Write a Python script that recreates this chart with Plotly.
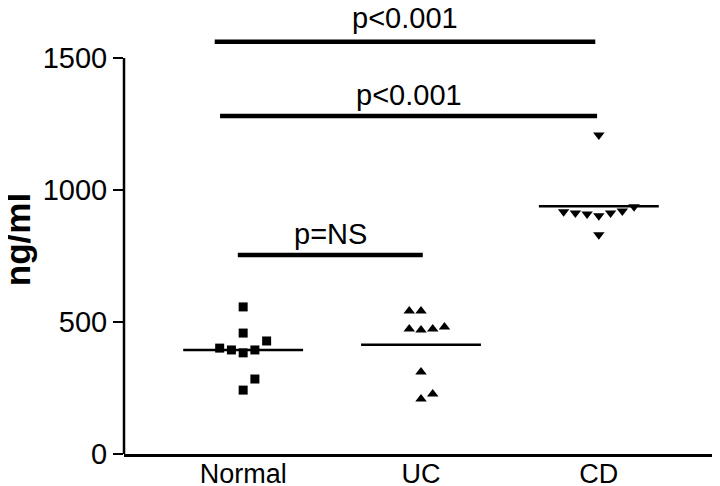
import numpy as np
import plotly.graph_objects as go

categories = ["Normal", "UC", "CD"]
normal_vals = [557, 458, 428, 401, 394, 383, 394, 284, 242]
uc_vals = [542, 542, 473, 470, 473, 481, 311, 208, 227]
cd_vals = [1208, 917, 913, 909, 902, 913, 920, 936, 830]

# column index of each point within its scatter column (dot-plot jitter)
normal_cols = [0, 0, 2, -2, -1, 0, 1, 1, 0]
uc_cols = [-1, 0, -1, 0, 1, 2, 0, 0, 1]
cd_cols = [0, -3, -2, -1, 0, 1, 2, 3, 0]

y_ticks = [0, 500, 1000, 1500]
y_title = "ng/ml"

# significance comparisons: (from group, to group, level, label)
sig_from = [-0.16, -0.13, -0.03]
sig_to = [1.98, 1.99, 1.01]
sig_level = [1561, 1280, 754]
sig_label_y = [1650, 1360, 832]
sig_labels = ["p<0.001", "p<0.001", "p=NS"]

FONT = "Arial, Liberation Sans, Helvetica, sans-serif"
COL_STEP = 0.066
MEAN_HALF = 0.337

groups = [
    (normal_vals, normal_cols, "square", 9),
    (uc_vals, uc_cols, "triangle-up", 10),
    (cd_vals, cd_cols, "triangle-down", 10),
]

fig = go.Figure()
for i, (vals, cols, sym, sz) in enumerate(groups):
    xs = [i + c * COL_STEP for c in cols]
    fig.add_trace(go.Scatter(
        x=xs, y=vals, mode="markers",
        marker=dict(symbol=sym, size=sz, color="black", line=dict(width=0)),
        showlegend=False, cliponaxis=False,
    ))
    m = float(np.mean(vals))
    fig.add_trace(go.Scatter(
        x=[i - MEAN_HALF, i + MEAN_HALF], y=[m, m], mode="lines",
        line=dict(color="black", width=2.5), showlegend=False,
    ))

shapes = []
# y-axis line from 0 to top tick
shapes.append(dict(type="line", xref="paper", yref="y", x0=0, x1=0,
                   y0=y_ticks[0], y1=y_ticks[-1], line=dict(color="black", width=2.5)))
annotations = []
for x0, x1, yl, ty, lab in zip(sig_from, sig_to, sig_level, sig_label_y, sig_labels):
    shapes.append(dict(type="line", xref="x", yref="y", x0=x0, x1=x1, y0=yl, y1=yl,
                       line=dict(color="black", width=4.5)))
    annotations.append(dict(x=(x0 + x1) / 2, y=ty, xref="x", yref="y", text=lab,
                            showarrow=False, font=dict(family=FONT, size=29, color="black"),
                            xanchor="center", yanchor="middle"))

annotations.append(dict(x=-0.178, y=0.48, xref="paper", yref="paper", text="<b>" + y_title + "</b>",
                        textangle=-90, showarrow=False,
                        font=dict(family=FONT, size=35, color="black"),
                        xanchor="center", yanchor="middle"))

fig.update_layout(
    width=712, height=478,
    margin=dict(l=116, r=2, t=0, b=32),
    paper_bgcolor="white", plot_bgcolor="white",
    shapes=shapes, annotations=annotations,
    font=dict(family=FONT, color="black"),
)
fig.update_xaxes(
    range=[-0.67, 2.67], tickmode="array", tickvals=[0, 1, 2], ticktext=categories,
    showgrid=False, zeroline=False, showline=True, linecolor="black", linewidth=2.5,
    ticks="", tickfont=dict(family=FONT, size=27, color="black"), automargin=False,
    ticklabelstandoff=-6,
)
fig.update_yaxes(
    range=[0, 1689], tickmode="array", tickvals=y_ticks,
    showgrid=False, zeroline=False, showline=False,
    ticks="outside", ticklen=10, tickwidth=2, tickcolor="black",
    tickfont=dict(family=FONT, size=29, color="black"), automargin=False,
)

fig.write_html("out.html")
